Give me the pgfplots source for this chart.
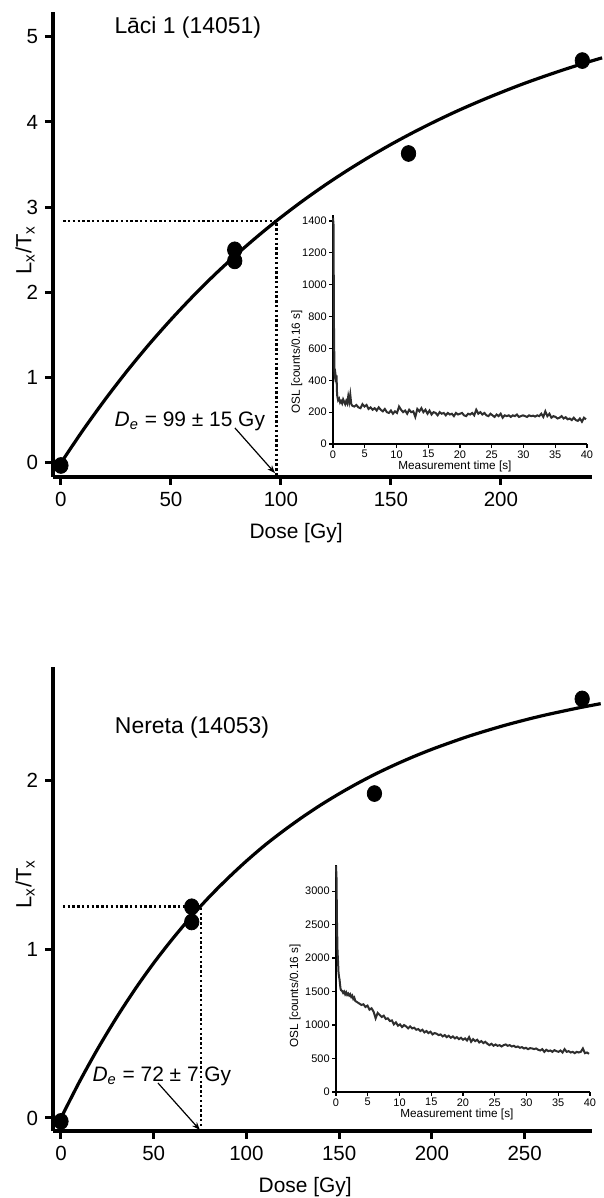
\documentclass[border=0pt]{standalone}
\usepackage{fontspec}
\setmainfont{Liberation Sans}
\usepackage{pgfplots}
\pgfplotsset{compat=1.18}
\usetikzlibrary{arrows.meta}

\tikzset{
  guide/.style={line width=1.3bp, dash pattern=on 1.2bp off 1.2bp},
  pointer/.style={line width=0.6bp, -{Stealth[length=4bp, width=3bp]}},
}
\pgfplotsset{
  mainax/.style={
    scale only axis, axis lines=left, clip=false,
    axis line style={line width=1.6bp, -},
    tick align=outside, major tick length=4bp,
    tick style={line width=1.5bp, black},
    tick label style={font=\fontsize{10.3}{12}\selectfont},
    label style={font=\fontsize{10.5}{12}\selectfont},
    /pgf/number format/assume math mode=true,
  },
  insetax/.style={
    scale only axis, axis lines=left, clip=false,
    axis line style={line width=1.1bp, -},
    tick align=outside, major tick length=2bp,
    tick style={line width=0.6bp, black},
    tick label style={font=\fontsize{5.5}{6}\selectfont, inner sep=1bp},
    label style={font=\fontsize{5.9}{7}\selectfont, inner sep=0pt},
    xmin=0, xmax=40, ymin=0,
    xtick={0,5,...,40},
    /pgf/number format/1000 sep={},
    /pgf/number format/assume math mode=true,
  },
  fitline/.style={line width=1.6bp, black, smooth},
  pts/.style={only marks, mark=*, mark size=3.6bp, black, mark options={yscale=1.1}},
  decay/.style={black!82, line width=1bp},
}

\begin{document}
\begin{tikzpicture}
\useasboundingbox (0,0) rectangle (302bp,599bp);

% ---------- upper panel: Laci 1 ----------
\begin{axis}[mainax,
  at={(26.5bp,360.5bp)}, anchor=south west,
  width=269.5bp, height=232.5bp,
  xmin=-3.6, xmax=241.4, ymin=-0.165, ymax=5.29,
  xtick={0,50,100,150,200}, ytick={0,1,2,3,4,5},
  xlabel={Dose [Gy]},
  xlabel style={at={(axis description cs:0.451,-0.12)}, anchor=center},
  ylabel={L\textsubscript{x}/T\textsubscript{x}},
  ylabel style={at={(axis description cs:-0.052,0.488)}, anchor=center, font=\fontsize{11}{12}\selectfont},
]
\addplot[fitline] coordinates {
  (0,0) (10,0.383) (20,0.741) (30,1.076) (40,1.389) (50,1.681) (60,1.955)
  (70,2.211) (80,2.449) (90,2.672) (100,2.881) (110,3.076) (120,3.258)
  (130,3.428) (140,3.587) (150,3.736) (160,3.875) (170,4.005) (180,4.127)
  (190,4.240) (200,4.346) (210,4.446) (220,4.538) (230,4.625) (240,4.706) (246,4.752)};
\addplot[pts] coordinates {(0,-0.03) (79,2.50) (79,2.37) (158,3.63) (237,4.72)};
\draw[guide] (axis cs:1,2.84) -- (axis cs:98,2.84) -- (axis cs:98,-0.165);
\draw[pointer] (axis cs:79.1,0.41) -- (axis cs:97.3,-0.12);
\node[font=\fontsize{10.5}{12}\selectfont] at (axis cs:58.6,0.49)
  {\textit{D}\textsubscript{\textit{e}} = 99 ± 15 Gy};
\node[font=\fontsize{11.5}{13}\selectfont] at (axis description cs:0.25,0.966) {Lāci 1 (14051)};
\end{axis}

\begin{axis}[insetax,
  at={(166.5bp,377bp)}, anchor=south west,
  width=127bp, height=114.5bp,
  ymax=1438, ytick={0,200,...,1400},
  xlabel={Measurement time [s]},
  xlabel style={at={(axis description cs:0.48,-0.10)}, anchor=center},
  ylabel={OSL [counts/0.16 s]},
  ylabel style={at={(axis description cs:-0.142,0.358)}, anchor=center},
]
\addplot[decay] coordinates {
  (0.00,1420) (0.08,1380) (0.16,700) (0.24,440) (0.32,420) (0.40,435) (0.48,410)
  (0.56,430) (0.64,310) (0.72,290) (0.80,275) (0.96,285) (1.12,260) (1.28,270)
  (1.44,255) (1.60,280) (1.76,265) (1.92,250) (2.08,270) (2.24,255) (2.40,300)
  (2.56,265) (2.72,310) (2.88,250) (3.04,240) (3.36,235) (3.68,245) (4.00,230)
  (4.32,225) (4.64,250) (4.96,235) (5.28,245) (5.60,220) (5.92,230) (6.24,215)
  (6.56,225) (6.88,210) (7.20,230) (7.52,215) (7.84,205) (8.16,220) (8.48,200)
  (8.80,195) (9.12,210) (9.44,190) (9.76,205) (10.08,195) (10.40,235) (10.72,215)
  (11.04,200) (11.36,210) (11.68,190) (12.00,215) (12.32,200) (12.64,205) (12.96,170)
  (13.28,220) (13.60,205) (13.92,225) (14.24,200) (14.56,215) (14.88,190) (15.20,210)
  (15.52,185) (15.84,200) (16.16,195) (16.48,180) (16.80,200) (17.12,190) (17.44,195)
  (17.76,180) (18.08,195) (18.40,185) (18.72,190) (19.04,175) (19.36,195) (19.68,185)
  (20.00,190) (20.32,195) (20.64,180) (20.96,175) (21.28,190) (21.60,185) (21.92,195)
  (22.24,180) (22.56,215) (22.88,190) (23.20,200) (23.52,185) (23.84,195) (24.16,180)
  (24.48,175) (24.80,190) (25.12,180) (25.44,170) (25.76,185) (26.08,175) (26.40,190)
  (26.72,165) (27.04,180) (27.36,175) (27.68,180) (28.00,170) (28.32,180) (28.64,175)
  (28.96,185) (29.28,170) (29.60,175) (29.92,180) (30.24,175) (30.56,170) (30.88,180)
  (31.20,175) (31.52,178) (31.84,172) (32.16,180) (32.48,175) (32.80,190) (33.12,170)
  (33.44,205) (33.76,175) (34.08,190) (34.40,165) (34.72,175) (35.04,170) (35.36,160)
  (35.68,165) (36.00,175) (36.32,160) (36.64,168) (36.96,155) (37.28,160) (37.60,150)
  (37.92,165) (38.24,150) (38.56,145) (38.88,160) (39.20,140) (39.52,165) (39.84,155)};
\end{axis}

% ---------- lower panel: Nereta ----------
\begin{axis}[mainax,
  at={(26.5bp,33.5bp)}, anchor=south west,
  width=269.5bp, height=232bp,
  xmin=-4.3, xmax=286.3, ymin=-0.077, ymax=2.669,
  xtick={0,50,100,150,200,250}, ytick={0,1,2},
  xlabel={Dose [Gy]},
  xlabel style={at={(axis description cs:0.468,-0.12)}, anchor=center},
  ylabel={L\textsubscript{x}/T\textsubscript{x}},
  ylabel style={at={(axis description cs:-0.052,0.532)}, anchor=center, font=\fontsize{11}{12}\selectfont},
]
\addplot[fitline] coordinates {
  (0,0) (10,0.215) (20,0.413) (30,0.595) (40,0.763) (50,0.917) (60,1.058)
  (70,1.189) (80,1.309) (90,1.419) (100,1.521) (110,1.615) (120,1.700)
  (130,1.779) (140,1.852) (150,1.919) (160,1.981) (170,2.038) (180,2.090)
  (190,2.138) (200,2.182) (210,2.222) (220,2.260) (230,2.294) (240,2.326)
  (250,2.355) (260,2.382) (270,2.406) (280,2.429) (291,2.452)};
\addplot[pts] coordinates {(0,-0.02) (70.5,1.25) (70.5,1.16) (169,1.92) (281,2.48)};
\draw[guide] (axis cs:1,1.25) -- (axis cs:75.5,1.25) -- (axis cs:75.5,-0.077);
\draw[pointer] (axis cs:52.3,0.207) -- (axis cs:74.9,-0.071);
\node[font=\fontsize{10.5}{12}\selectfont] at (axis cs:54.4,0.249)
  {\textit{D}\textsubscript{\textit{e}} = 72 ± 7 Gy};
\node[font=\fontsize{11.5}{13}\selectfont] at (axis description cs:0.258,0.869) {Nereta (14053)};
\end{axis}

\begin{axis}[insetax,
  at={(168bp,53bp)}, anchor=south west,
  width=127bp, height=113.5bp,
  ymax=3390, ytick={0,500,...,3000},
  xlabel={Measurement time [s]},
  xlabel style={at={(axis description cs:0.476,-0.101)}, anchor=center},
  ylabel={OSL [counts/0.16 s]},
  ylabel style={at={(axis description cs:-0.161,0.423)}, anchor=center},
]
\addplot[decay] coordinates {
  (0.00,3380) (0.08,3200) (0.16,2500) (0.24,2100) (0.32,1950) (0.40,1780) (0.48,1720)
  (0.56,1680) (0.64,1600) (0.72,1540) (0.80,1520) (0.96,1510) (1.12,1480) (1.28,1500)
  (1.44,1460) (1.60,1490) (1.76,1450) (1.92,1470) (2.08,1440) (2.24,1460) (2.40,1420)
  (2.56,1440) (2.72,1390) (2.88,1410) (3.04,1360) (3.36,1340) (3.68,1320) (4.00,1300)
  (4.32,1310) (4.64,1270) (4.96,1290) (5.28,1230) (5.60,1250) (5.92,1200) (6.24,1100)
  (6.56,1180) (6.88,1150) (7.20,1120) (7.52,1140) (7.84,1090) (8.16,1100) (8.48,1060)
  (8.80,1070) (9.12,1010) (9.44,1040) (9.76,990) (10.08,1010) (10.40,970) (10.72,1000)
  (11.04,980) (11.36,950) (11.68,980) (12.00,950) (12.32,960) (12.64,930) (12.96,940)
  (13.28,910) (13.60,930) (13.92,890) (14.24,910) (14.56,880) (14.88,900) (15.20,860)
  (15.52,880) (15.84,870) (16.16,850) (16.48,860) (16.80,830) (17.12,850) (17.44,820)
  (17.76,840) (18.08,810) (18.40,830) (18.72,800) (19.04,820) (19.36,790) (19.68,810)
  (20.00,780) (20.32,800) (20.64,770) (20.96,820) (21.28,750) (21.60,790) (21.92,760)
  (22.24,780) (22.56,740) (22.88,760) (23.20,730) (23.52,750) (23.84,720) (24.16,700)
  (24.48,720) (24.80,690) (25.12,710) (25.44,690) (25.76,700) (26.08,680) (26.40,700)
  (26.72,710) (27.04,690) (27.36,700) (27.68,680) (28.00,690) (28.32,670) (28.64,680)
  (28.96,660) (29.28,670) (29.60,650) (29.92,660) (30.24,640) (30.56,655) (30.88,650)
  (31.20,640) (31.52,650) (31.84,630) (32.16,620) (32.48,640) (32.80,600) (33.12,630)
  (33.44,610) (33.76,620) (34.08,600) (34.40,625) (34.72,610) (35.04,600) (35.36,620)
  (35.68,590) (36.00,640) (36.32,600) (36.64,610) (36.96,590) (37.28,600) (37.60,580)
  (37.92,600) (38.24,590) (38.56,600) (38.88,650) (39.20,580) (39.52,590) (39.84,570)};
\end{axis}
\end{tikzpicture}
\end{document}
